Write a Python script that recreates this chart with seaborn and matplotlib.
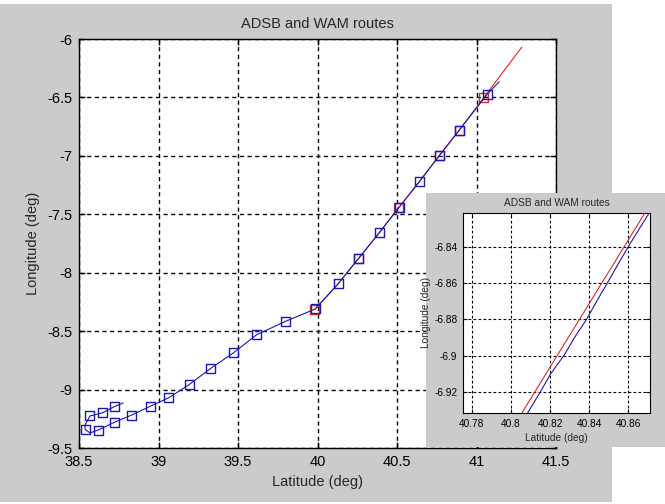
import numpy as np
import pandas as pd
import matplotlib
matplotlib.use("Agg")
import matplotlib.pyplot as plt
from matplotlib.patches import Rectangle
import seaborn as sns

sns.set_style("ticks")
plt.rcParams['font.family'] = ['Liberation Sans', 'DejaVu Sans']

# ---------------- data (main plot) ----------------
title = "ADSB and WAM routes"
xlabel = "Latitude (deg)"
ylabel = "Longitude (deg)"

# WAM route (blue) - polyline
wam_lat = [38.777, 38.722, 38.649, 38.569, 38.538, 38.538, 38.569, 38.621, 38.722,
           38.831, 38.948, 39.066, 39.192, 39.326, 39.473, 39.618, 39.799, 39.986,
           40.129, 40.259, 40.387, 40.513, 40.640, 40.769, 40.892, 41.068, 41.143]
wam_lon = [-9.114, -9.146, -9.198, -9.226, -9.303, -9.340, -9.371, -9.346, -9.280,
           -9.218, -9.143, -9.069, -8.958, -8.821, -8.684, -8.530, -8.416, -8.310,
           -8.096, -7.877, -7.660, -7.440, -7.221, -6.993, -6.779, -6.471, -6.365]
# WAM markers
wam_mk_lat = [38.722, 38.649, 38.569, 38.538, 38.621, 38.722, 38.831, 38.948, 39.066,
              39.192, 39.326, 39.473, 39.618, 39.799, 39.986, 40.129, 40.259, 40.387,
              40.513, 40.640, 40.769, 40.892, 41.068]
wam_mk_lon = [-9.146, -9.198, -9.226, -9.340, -9.346, -9.280, -9.218, -9.143, -9.069,
              -8.958, -8.821, -8.684, -8.530, -8.416, -8.310, -8.096, -7.877, -7.660,
              -7.440, -7.221, -6.993, -6.779, -6.471]

# ADSB route (red)
adsb_lat = [39.984, 40.128, 40.257, 40.386, 40.511, 40.639, 40.767, 40.890, 41.047, 41.284]
adsb_lon = [-8.312, -8.098, -7.880, -7.662, -7.443, -7.224, -6.996, -6.782, -6.499, -6.071]
adsb_mk_lat = [39.984, 40.257, 40.511, 40.767, 40.890, 41.047]
adsb_mk_lon = [-8.312, -7.880, -7.443, -6.996, -6.782, -6.499]

main_xticks = [38.5, 39, 39.5, 40, 40.5, 41, 41.5]
main_xticklabels = ["38.5", "39", "39.5", "40", "40.5", "41", "41.5"]
main_yticks = [-9.5, -9, -8.5, -8, -7.5, -7, -6.5, -6]
main_yticklabels = ["-9.5", "-9", "-8.5", "-8", "-7.5", "-7", "-6.5", "-6"]

# ---------------- data (zoomed inset) ----------------
in_adsb_lat = [40.8000, 40.8056, 40.8684, 40.8750]
in_adsb_lon = [-6.9418, -6.9316, -6.8214, -6.8098]
in_wam_lat = [40.8060, 40.8085, 40.8150, 40.8203, 40.8270, 40.8325, 40.8386,
              40.8438, 40.8492, 40.8545, 40.8599, 40.8656, 40.8706, 40.8760]
in_wam_lon = [-6.9360, -6.9316, -6.9200, -6.9100, -6.9000, -6.8900, -6.8800,
              -6.8700, -6.8600, -6.8500, -6.8400, -6.8300, -6.8214, -6.8120]
in_xticks = [40.78, 40.80, 40.82, 40.84, 40.86]
in_xticklabels = ["40.78", "40.8", "40.82", "40.84", "40.86"]
in_yticks = [-6.92, -6.90, -6.88, -6.86, -6.84]
in_yticklabels = ["-6.92", "-6.9", "-6.88", "-6.86", "-6.84"]

BLUE = "#1a1aa8"
RED = "#d42a2a"
GRAY = "#cbcbcb"

fig = plt.figure(figsize=(6.65, 5.04), dpi=100, facecolor="white")

# main gray figure background
fig.patches.append(Rectangle((0, 0.004), 0.9203, 0.988, transform=fig.transFigure,
                             facecolor=GRAY, edgecolor="none", zorder=-1))

ax = fig.add_axes([0.1188, 0.1111, 0.7173, 0.8115], zorder=0)
ax.set_facecolor("white")

sns.lineplot(x=adsb_lat, y=adsb_lon, sort=False, estimator=None, ax=ax,
             color=RED, linewidth=0.8, zorder=3)
sns.scatterplot(x=adsb_mk_lat, y=adsb_mk_lon, ax=ax, marker="s", s=42,
                facecolor="none", edgecolor=RED, linewidth=1.0, zorder=4)
sns.lineplot(x=wam_lat, y=wam_lon, sort=False, estimator=None, ax=ax,
             color=BLUE, linewidth=0.8, zorder=5)
sns.scatterplot(x=wam_mk_lat, y=wam_mk_lon, ax=ax, marker="s", s=42,
                facecolor="none", edgecolor=BLUE, linewidth=1.0, zorder=6)

ax.set_xlim(38.5, 41.5)
ax.set_ylim(-9.5, -6)
ax.set_xticks(main_xticks)
ax.set_xticklabels(main_xticklabels)
ax.set_yticks(main_yticks)
ax.set_yticklabels(main_yticklabels)
ax.grid(True, color="black", linestyle=(0, (3, 2.5)), linewidth=1.0)
ax.set_axisbelow(True)
ax.tick_params(direction="in", length=4, width=1, top=True, right=True,
               labelsize=10.5, colors="black")
ax.tick_params(axis="x", pad=5)
ax.tick_params(axis="y", pad=5)
for sp in ax.spines.values():
    sp.set_color("black")
    sp.set_linewidth(1.0)
ax.set_title(title, fontsize=10.5, pad=8)
ax.set_xlabel(xlabel, fontsize=10.5, labelpad=4)
ax.set_ylabel(ylabel, fontsize=10.5, labelpad=5)

# inset gray background
fig.patches.append(Rectangle((0.6406, 0.1131), 0.3594, 0.504, transform=fig.transFigure,
                             facecolor=GRAY, edgecolor="none", zorder=1))

ax2 = fig.add_axes([0.6962, 0.1806, 0.2812, 0.3968], zorder=2)
ax2.set_facecolor("white")
sns.lineplot(x=in_adsb_lat, y=in_adsb_lon, sort=False, estimator=None, ax=ax2,
             color=RED, linewidth=0.8, zorder=3)
sns.lineplot(x=in_wam_lat, y=in_wam_lon, sort=False, estimator=None, ax=ax2,
             color=BLUE, linewidth=0.8, zorder=4)
ax2.set_xlim(40.7755, 40.871)
ax2.set_ylim(-6.9316, -6.8214)
ax2.set_xticks(in_xticks)
ax2.set_xticklabels(in_xticklabels)
ax2.set_yticks(in_yticks)
ax2.set_yticklabels(in_yticklabels)
ax2.grid(True, color="black", linestyle=(0, (2.5, 2)), linewidth=0.8)
ax2.set_axisbelow(True)
ax2.tick_params(direction="in", length=3, width=0.8, top=True, right=True,
                labelsize=7.3, colors="black", pad=4)
for sp in ax2.spines.values():
    sp.set_color("black")
    sp.set_linewidth(0.8)
ax2.set_title(title, fontsize=7.3, pad=5)
ax2.set_xlabel(xlabel, fontsize=7.3, labelpad=3)
ax2.set_ylabel(ylabel, fontsize=7.3, labelpad=2)

fig.savefig("out.png", dpi=100, facecolor="white")
